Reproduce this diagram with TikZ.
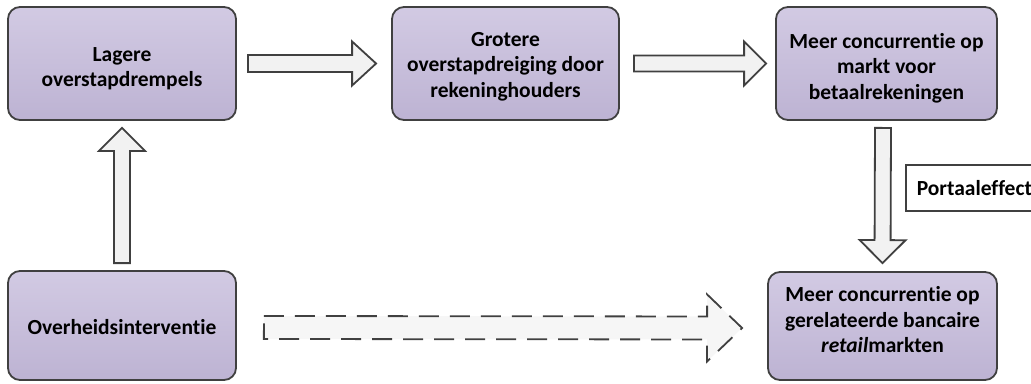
\documentclass[tikz,border=0pt]{standalone}
\usepackage{fontspec}
\setmainfont{Carlito}[Ligatures=NoCommon]
\usetikzlibrary{calc}
\definecolor{edge}{HTML}{404040}
\definecolor{boxtop}{RGB}{210,202,227}
\definecolor{boxbot}{RGB}{189,179,211}
\definecolor{arrowfill}{HTML}{F2F2F2}
\newcommand\blockarrow[6]{%
  \coordinate (bas) at (#2);
  \coordinate (bat) at (#3);
  \coordinate (bah) at ($(bat)!#6!(bas)$);
  \draw[#1] ($(bas)!#4!90:(bat)$) -- ($(bah)!#4!90:(bat)$) -- ($(bah)!#5!90:(bat)$) -- (bat)
    -- ($(bah)!#5!-90:(bat)$) -- ($(bah)!#4!-90:(bat)$) -- ($(bas)!#4!-90:(bat)$) -- cycle;}
\tikzset{
  box/.style={draw=edge, line width=1.8pt, rounded corners=12pt,
    top color=boxtop, bottom color=boxbot, inner sep=0pt},
  boxtext/.style={align=center, inner sep=0pt,
    font=\fontsize{21.5}{25.5}\selectfont\bfseries},
  barrow/.style={draw=edge, line width=1.8pt, fill=arrowfill, line join=miter},
  dasharrow/.style={draw=edge, line width=1.8pt, fill=arrowfill!70!white,
    dash pattern=on 20pt off 11pt},
  labelbox/.style={draw=edge, line width=1.5pt, fill=white, anchor=west,
    minimum height=46pt, inner xsep=11pt, inner ysep=0pt,
    font=\fontsize{21.5}{25}\selectfont\bfseries}
}
\begin{document}
\begin{tikzpicture}[x=1pt, y=-1pt]
\useasboundingbox (0,0) rectangle (1031,383);
\clip (0,0) rectangle (1031,383);
\node[box, minimum width=228pt, minimum height=113pt] (b1) at (122,63.5) {};
\node[box, minimum width=227pt, minimum height=113pt] (b2) at (505.5,63.5) {};
\node[box, minimum width=221pt, minimum height=113pt] (b3) at (886.5,63.5) {};
\node[box, minimum width=229pt, minimum height=108pt] (b4) at (882.5,326) {};
\node[box, minimum width=228pt, minimum height=109pt] (b5) at (122,325.5) {};
\node[boxtext] (t1) at ([yshift=-5pt]b1.center) {Lagere\\overstapdrempels};
\node[boxtext] (t2) at ([yshift=-3pt]b2.center) {Grotere\\overstapdreiging door\\rekeninghouders};
\node[boxtext] (t3) at ([yshift=-4.5pt]b3.center) {Meer concurrentie op\\markt voor\\betaalrekeningen};
\node[boxtext] (t4) at ([yshift=6pt]b4.center) {Meer concurrentie op\\gerelateerde bancaire\\\textit{retail}markten};
\node[boxtext] (t5) at ([yshift=-2pt]b5.center) {Overheidsinterventie};
\node[labelbox] (pl) at (905,188) {Portaaleffect};
% arrows
\blockarrow{barrow}{[xshift=11pt]b1.east}{[xshift=-15pt]b2.west}{8.5pt}{22pt}{24pt}
\blockarrow{barrow}{[xshift=14pt]b2.east}{[xshift=-9pt]b3.west}{8pt}{22pt}{22pt}
\blockarrow{barrow}{[yshift=7pt]b5.north}{[yshift=-7pt]b1.south}{8pt}{23pt}{23pt}
\blockarrow{barrow}{[xshift=-3.5pt,yshift=-7pt]b3.south}{[yshift=8pt]b4.north}{8pt}{23pt}{23pt}
\blockarrow{dasharrow}{[xshift=27pt,yshift=-2pt]b5.east}{[xshift=-25pt,yshift=-2pt]b4.west}{11.5pt}{33.5pt}{35pt}
\end{tikzpicture}
\end{document}
